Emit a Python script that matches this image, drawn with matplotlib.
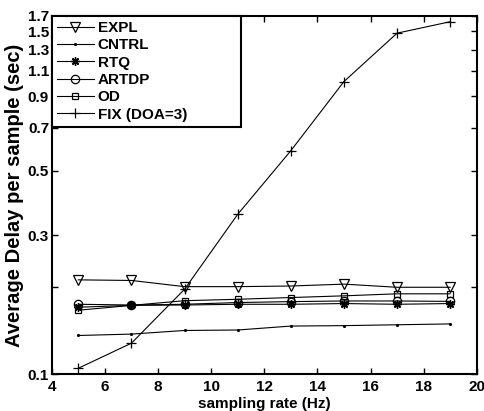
import matplotlib
matplotlib.use("Agg")
import matplotlib.pyplot as plt
from matplotlib.ticker import FixedLocator, FixedFormatter, NullLocator

plt.rcParams['font.family'] = ['Liberation Sans', 'DejaVu Sans']
plt.rcParams['font.weight'] = 'bold'

rates = [5, 7, 9, 11, 13, 15, 17, 19]
expl = [0.211, 0.210, 0.200, 0.200, 0.201, 0.204, 0.199, 0.199]
cntrl = [0.136, 0.1375, 0.1415, 0.142, 0.1465, 0.147, 0.148, 0.149]
rtq = [0.170, 0.1725, 0.173, 0.174, 0.174, 0.175, 0.174, 0.175]
artdp = [0.174, 0.173, 0.174, 0.1764, 0.1777, 0.1786, 0.1786, 0.178]
od = [0.166, 0.1725, 0.179, 0.181, 0.1835, 0.186, 0.189, 0.189]
fix = [0.105, 0.128, 0.196, 0.354, 0.585, 1.01, 1.48, 1.62]

labels = ['EXPL', 'CNTRL', 'RTQ', 'ARTDP', 'OD', 'FIX (DOA=3)']
yticks = [0.1, 0.2, 0.3, 0.5, 0.7, 0.9, 1.1, 1.3, 1.5, 1.7]
yticklabels = ['0.1', '', '0.3', '0.5', '0.7', '0.9', '1.1', '1.3', '1.5', '1.7']
xticks = [4, 6, 8, 10, 12, 14, 16, 18, 20]

fig = plt.figure(figsize=(4.84, 4.11), dpi=100)
ax = fig.add_axes([0.107, 0.089, 0.878, 0.873])

lw = 0.8
ax.plot(rates, expl, color='k', lw=lw, marker='v', ms=7, mfc='none', mec='k', mew=0.9, label=labels[0])
ax.plot(rates, cntrl, color='k', lw=lw, marker='.', ms=2.5, mfc='k', mec='k', label=labels[1])
ax.plot(rates, rtq, color='k', lw=lw, marker=(8, 2, 0), ms=6, mfc='k', mec='k', mew=1.0, label=labels[2])
ax.plot(rates, artdp, color='k', lw=lw, marker='o', ms=6, mfc='none', mec='k', mew=0.9, label=labels[3])
ax.plot(rates, od, color='k', lw=lw, marker='s', ms=4.5, mfc='none', mec='k', mew=0.9, label=labels[4])
ax.plot(rates, fix, color='k', lw=lw, marker='+', ms=7, mec='k', mew=0.9, label=labels[5])

ax.set_yscale('log')
ax.set_ylim(0.1, 1.7)
ax.set_xlim(4, 20)
ax.yaxis.set_major_locator(FixedLocator(yticks))
ax.yaxis.set_major_formatter(FixedFormatter(yticklabels))
ax.yaxis.set_minor_locator(NullLocator())
ax.set_xticks(xticks)
ax.set_xticklabels([str(t) for t in xticks])

ax.tick_params(direction='in', top=True, right=True, length=4, width=1,
               labelsize=11, pad=2)
ax.tick_params(axis='x', pad=4)
for lab in ax.get_xticklabels() + ax.get_yticklabels():
    lab.set_fontweight('bold')
for s in ax.spines.values():
    s.set_linewidth(1.5)

ax.set_xlabel('sampling rate (Hz)', fontsize=11, fontweight='bold', labelpad=2)
ax.set_ylabel('Average Delay per sample (sec)', fontsize=14.5, fontweight='bold', labelpad=3)

leg = ax.legend(loc='upper left', bbox_to_anchor=(0, 1, 0.445, 0), mode='expand',
                borderaxespad=0, fancybox=False, framealpha=1, edgecolor='k',
                handlelength=2.4, handletextpad=0.25,
                labelspacing=0.22, borderpad=0.35, prop={'weight': 'bold', 'size': 11})
leg.get_frame().set_linewidth(1.5)

fig.savefig('out.png', dpi=100)
